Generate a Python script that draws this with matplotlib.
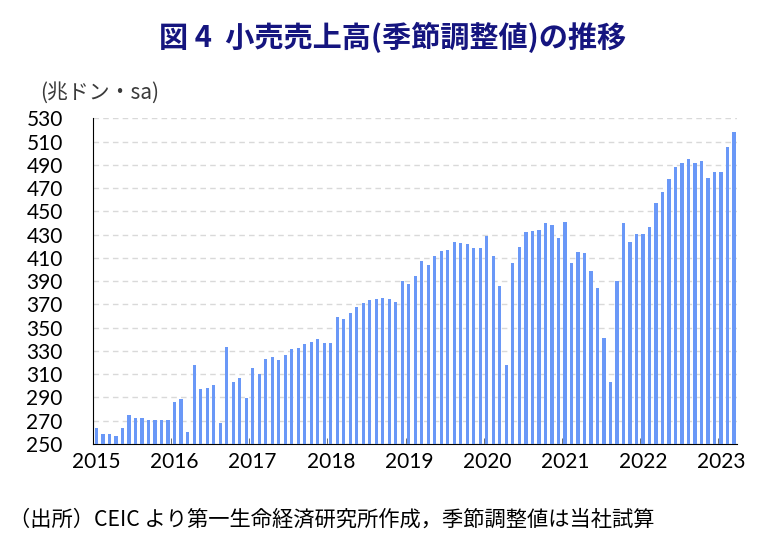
import numpy as np
import matplotlib.pyplot as plt

# monthly retail sales, Jan 2015 - Mar 2023 (trillion VND, s.a.)
v2015 = [263.5, 259, 259, 257, 263.5, 275, 272, 272, 270.6, 270.6, 271, 270.6]
v2016 = [286.4, 288.4, 260.6, 318, 297.3, 298, 300.7, 268.3, 333.7, 303.6, 306.4, 289.3]
v2017 = [315, 310, 323, 325, 322, 326.5, 331.4, 332.8, 335.7, 337.4, 340, 336.5]
v2018 = [336.5, 359.5, 357.7, 363, 367.5, 371.2, 373.8, 375, 375.8, 375, 372, 389.8]
v2019 = [387.5, 394.7, 407, 404, 411.6, 416, 417, 424, 423, 422, 418.8, 418.8]
v2020 = [428.5, 411.6, 385.5, 318, 406, 419.6, 432.5, 432.8, 433.7, 440, 438, 426.8]
v2021 = [440.8, 405.3, 415, 414, 399, 383.8, 340.8, 303.6, 390, 440, 423.4, 430.2]
v2022 = [430.2, 436.5, 456.9, 467, 477.5, 488.4, 492, 495.3, 492, 493, 478.4, 484]
v2023 = [484, 505, 518]

values = v2015 + v2016 + v2017 + v2018 + v2019 + v2020 + v2021 + v2022 + v2023
years = ['2015', '2016', '2017', '2018', '2019', '2020', '2021', '2022', '2023']
yticks = list(range(250, 531, 20))

plt.rcParams['font.family'] = ['Noto Sans CJK JP', 'DejaVu Sans']

fig = plt.figure(figsize=(7.68, 5.51), dpi=100)
ax = fig.add_axes([0.1215, 0.1942, 0.8385, 0.5911])

x = np.arange(len(values))
ax.bar(x, np.array(values) - 250, bottom=250, width=0.5, color='#6a98f7', zorder=3)

ax.set_ylim(250, 530)
ax.set_xlim(-0.5, len(values) - 0.5)
ax.set_yticks(yticks)
ax.set_yticklabels([str(t) for t in yticks], family='Lato', fontsize=15)
ax.tick_params(axis='y', length=0, pad=22)

ax.set_xticks(np.arange(0, len(values), 12))
ax.set_xticklabels(years, family='Lato', fontsize=15)
ax.set_xticks(np.arange(11.5, len(values) - 1, 12), minor=True)
ax.tick_params(axis='x', which='major', length=0, pad=6)
ax.tick_params(axis='x', which='minor', direction='in', length=4, color='#555555')

ax.grid(axis='y', color='#d9d9d9', linestyle=(0, (4, 3)), linewidth=1, zorder=0)
for s in ['top', 'right']:
    ax.spines[s].set_visible(False)
ax.spines['left'].set_color('black')
ax.spines['bottom'].set_color('black')

fig.text(0.511, 0.932, '図 4  小売売上高(季節調整値)の推移', ha='center', va='center',
         fontsize=21, fontweight='bold', color='#15157f')
fig.text(0.052, 0.831, '(兆ドン・sa)', ha='left', va='center', fontsize=15, color='#3a3a3a')
fig.text(0.012, 0.056, '（出所）CEIC より第一生命経済研究所作成，季節調整値は当社試算',
         ha='left', va='center', fontsize=15.3, color='black')

fig.savefig('out.png', dpi=100)
